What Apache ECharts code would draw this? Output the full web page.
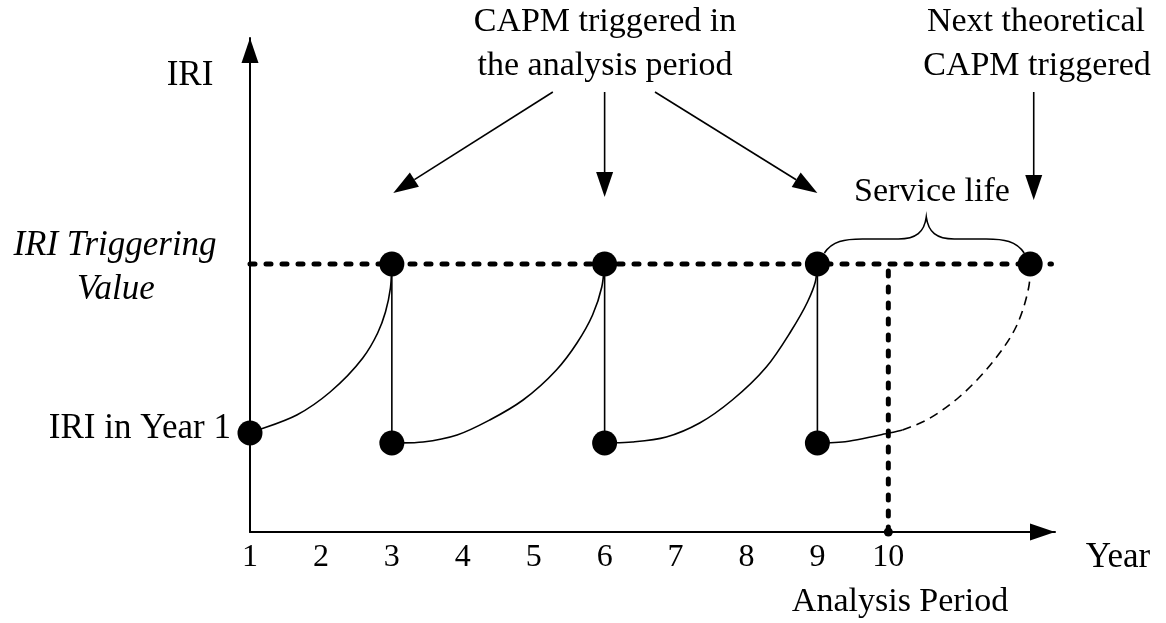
<!DOCTYPE html>
<html style="height: 100%">
<head>
<meta charset="utf-8">
<script src="https://cdn.jsdelivr.net/npm/echarts@6/dist/echarts.min.js"></script>
</head>
<body style="height: 100%; margin: 0; background: #fff">
<div id="main" style="width: 1166px; height: 623px;"></div>
<script type="text/javascript">
// --- data (year, IRI in arbitrary units) ---
var yearLabels = [1, 2, 3, 4, 5, 6, 7, 8, 9, 10];
var xMax = 12.35, yMax = 4.94;
var triggerIRI = 2.68;
var startIRI = 0.99;
var resetIRI = 0.89;
var capmYears = [3, 6, 9];
var nextCapmYear = 12;
var analysisYear = 10;

var curve1 = [[1, 0.99], [1.66, 1.17], [2.13, 1.40], [2.59, 1.74], [2.80, 1.99], [2.91, 2.20], [2.98, 2.44], [3, 2.68]];
var curve2 = [[3, 0.89], [3.44, 0.90], [3.92, 0.97], [4.38, 1.12], [4.85, 1.32], [5.32, 1.62], [5.61, 1.89], [5.83, 2.17], [5.96, 2.45], [6, 2.68]];
var curve3 = [[6, 0.89], [6.39, 0.90], [6.87, 0.95], [7.34, 1.09], [7.80, 1.32], [8.28, 1.65], [8.62, 2.0], [8.86, 2.30], [8.97, 2.50], [9, 2.68]];
var curve4Solid = [[9, 0.89], [9.35, 0.90], [10.01, 0.99], [10.2, 1.02]];
var curve4Dashed = [[10.2, 1.02], [10.54, 1.12], [11.0, 1.35], [11.46, 1.69], [11.80, 2.05], [11.98, 2.45], [12, 2.68]];

// annotation arrows [fromX, fromY, toX, toY]
var noteArrows = [[5.27, 4.40, 3.02, 3.39], [6, 4.40, 6, 3.35], [6.71, 4.40, 9.0, 3.39], [12.05, 4.40, 12.05, 3.32]];
var axisArrows = [[xMax - 0.5, 0, xMax, 0], [1, yMax - 0.4, 1, yMax]];

var font = '"Liberation Serif", "Times New Roman", serif';

var dom = document.getElementById('main');
var myChart = echarts.init(dom, null, {renderer: 'canvas'});

// smooth curve through the read points (centripetal catmull-rom in pixel space)
function curveSeries(data, dashed) {
    return {
        type: 'custom', data: [0], clip: false, silent: true, z: 3,
        renderItem: function (params, api) {
            var p = data.map(function (d) { return api.coord(d); });
            var n = p.length;
            var first = [2 * p[0][0] - p[1][0], 2 * p[0][1] - p[1][1]];
            var last = [2 * p[n - 1][0] - p[n - 2][0], 2 * p[n - 1][1] - p[n - 2][1]];
            var q = [first].concat(p).concat([last]);
            function dist(a, b) { return Math.pow(Math.hypot(b[0] - a[0], b[1] - a[1]), 0.5) || 1e-6; }
            var d = 'M' + p[0][0] + ',' + p[0][1];
            for (var i = 1; i < q.length - 2; i++) {
                var p0 = q[i - 1], p1 = q[i], p2 = q[i + 1], p3 = q[i + 2];
                var d1 = dist(p0, p1), d2 = dist(p1, p2), d3 = dist(p2, p3);
                var c1 = [0, 1].map(function (k) {
                    return (d1 * d1 * p2[k] - d2 * d2 * p0[k] + (2 * d1 * d1 + 3 * d1 * d2 + d2 * d2) * p1[k]) / (3 * d1 * (d1 + d2));
                });
                var c2 = [0, 1].map(function (k) {
                    return (d3 * d3 * p1[k] - d2 * d2 * p3[k] + (2 * d3 * d3 + 3 * d3 * d2 + d2 * d2) * p2[k]) / (3 * d3 * (d3 + d2));
                });
                d += ' C' + c1[0] + ',' + c1[1] + ' ' + c2[0] + ',' + c2[1] + ' ' + p2[0] + ',' + p2[1];
            }
            return {
                type: 'path', shape: {pathData: d},
                style: {fill: null, stroke: '#000', lineWidth: 1.6, lineDash: dashed ? [9, 6] : null}
            };
        }
    };
}

function arrowItem(params, api) {
    var a = api.coord([api.value(0), api.value(1)]);
    var b = api.coord([api.value(2), api.value(3)]);
    var dx = b[0] - a[0], dy = b[1] - a[1];
    var len = Math.sqrt(dx * dx + dy * dy);
    var ux = dx / len, uy = dy / len;
    var hl = 25, hw = 8.5;
    var bx = b[0] - ux * hl, by = b[1] - uy * hl;
    return {
        type: 'group',
        children: [
            {type: 'line', shape: {x1: a[0], y1: a[1], x2: bx, y2: by}, style: {stroke: '#000', lineWidth: 1.6}},
            {type: 'polygon', shape: {points: [[b[0], b[1]], [bx - uy * hw, by + ux * hw], [bx + uy * hw, by - ux * hw]]}, style: {fill: '#000'}}
        ]
    };
}

var dots = [[1, startIRI]];
capmYears.forEach(function (y) { dots.push([y, triggerIRI]); dots.push([y, resetIRI]); });
dots.push([nextCapmYear, triggerIRI]);

var drops = capmYears.map(function (y) {
    return {
        type: 'line', data: [[y, resetIRI], [y, triggerIRI]], showSymbol: false, silent: true,
        lineStyle: {color: '#000', width: 1.6}
    };
});

var option = {
    animation: false,
    grid: {left: 250, right: 111, top: 38, bottom: 91},
    xAxis: {
        type: 'value', min: 1, max: xMax, interval: 1,
        axisLine: {show: true, lineStyle: {color: '#000', width: 2}},
        axisTick: {show: false},
        splitLine: {show: false},
        axisLabel: {
            color: '#000', fontFamily: font, fontSize: 32, margin: 10, showMaxLabel: false,
            formatter: function (v) { return yearLabels.indexOf(v) >= 0 ? String(v) : ''; }
        }
    },
    yAxis: {
        type: 'value', min: 0, max: yMax,
        axisLine: {show: true, lineStyle: {color: '#000', width: 2}},
        axisTick: {show: false}, axisLabel: {show: false}, splitLine: {show: false}
    },
    series: [
        {   // IRI triggering value
            type: 'line', data: [[1, triggerIRI], [xMax - 0.05, triggerIRI]], showSymbol: false, silent: true, z: 2,
            lineStyle: {color: '#000', width: 5, type: [5, 11], cap: 'round'}
        },
        {   // analysis period
            type: 'line', data: [[analysisYear, 0], [analysisYear, triggerIRI]], showSymbol: false, silent: true, z: 2,
            lineStyle: {color: '#000', width: 5, type: [5, 11], cap: 'round'}
        },
        curveSeries(curve1), curveSeries(curve2), curveSeries(curve3),
        curveSeries(curve4Solid), curveSeries(curve4Dashed, true)
    ].concat(drops).concat([
        {type: 'scatter', data: dots, symbolSize: 25, itemStyle: {color: '#000', opacity: 1}, z: 5, silent: true},
        {type: 'scatter', data: [[analysisYear, 0]], symbolSize: 9, itemStyle: {color: '#000', opacity: 1}, z: 5, silent: true},
        {type: 'custom', data: noteArrows, renderItem: arrowItem, clip: false, silent: true, z: 4},
        {type: 'custom', data: axisArrows, renderItem: arrowItem, clip: false, silent: true, z: 4},
        {   // service life brace
            type: 'custom', data: [[capmYears[2], nextCapmYear, triggerIRI]], clip: false, silent: true, z: 4,
            renderItem: function (params, api) {
                var p1 = api.coord([api.value(0), api.value(2)]);
                var p2 = api.coord([api.value(1), api.value(2)]);
                var y = p1[1], L = p1[0] + 7, R = p2[0] - 6, M = (L + R) / 2 + 2;
                var d = 'M' + L + ',' + (y - 11) +
                    ' C' + (L + 8) + ',' + (y - 23) + ' ' + (L + 20) + ',' + (y - 25) + ' ' + (L + 38) + ',' + (y - 25) +
                    ' L' + (M - 28) + ',' + (y - 25) +
                    ' C' + (M - 10) + ',' + (y - 25) + ' ' + (M - 2) + ',' + (y - 32) + ' ' + M + ',' + (y - 47) +
                    ' C' + (M + 2) + ',' + (y - 32) + ' ' + (M + 10) + ',' + (y - 25) + ' ' + (M + 28) + ',' + (y - 25) +
                    ' L' + (R - 38) + ',' + (y - 25) +
                    ' C' + (R - 20) + ',' + (y - 25) + ' ' + (R - 8) + ',' + (y - 23) + ' ' + R + ',' + (y - 11);
                return {type: 'path', shape: {pathData: d}, style: {fill: null, stroke: '#000', lineWidth: 1.6}};
            }
        }
    ]),
    graphic: [
        {type: 'text', x: 190, y: 76, style: {text: 'IRI', font: '35px ' + font, fill: '#000', align: 'center', verticalAlign: 'middle'}},
        {type: 'text', x: 115, y: 246, style: {text: 'IRI Triggering', font: 'italic 35px ' + font, fill: '#000', align: 'center', verticalAlign: 'middle'}},
        {type: 'text', x: 116, y: 290, style: {text: 'Value', font: 'italic 35px ' + font, fill: '#000', align: 'center', verticalAlign: 'middle'}},
        {type: 'text', x: 231, y: 429, style: {text: 'IRI in Year 1', font: '35px ' + font, fill: '#000', align: 'right', verticalAlign: 'middle'}},
        {type: 'text', x: 605, y: 22, style: {text: 'CAPM triggered in', font: '34px ' + font, fill: '#000', align: 'center', verticalAlign: 'middle'}},
        {type: 'text', x: 605, y: 66, style: {text: 'the analysis period', font: '34px ' + font, fill: '#000', align: 'center', verticalAlign: 'middle'}},
        {type: 'text', x: 1036, y: 22, style: {text: 'Next theoretical', font: '34px ' + font, fill: '#000', align: 'center', verticalAlign: 'middle'}},
        {type: 'text', x: 1037, y: 66, style: {text: 'CAPM triggered', font: '34px ' + font, fill: '#000', align: 'center', verticalAlign: 'middle'}},
        {type: 'text', x: 932, y: 192, style: {text: 'Service life', font: '34px ' + font, fill: '#000', align: 'center', verticalAlign: 'middle'}},
        {type: 'text', x: 1118, y: 558, style: {text: 'Year', font: '35px ' + font, fill: '#000', align: 'center', verticalAlign: 'middle'}},
        {type: 'text', x: 900, y: 602, style: {text: 'Analysis Period', font: '34px ' + font, fill: '#000', align: 'center', verticalAlign: 'middle'}}
    ]
};

if (option && typeof option === 'object') {
    myChart.setOption(option, true);
}
</script>
</body>
</html>
